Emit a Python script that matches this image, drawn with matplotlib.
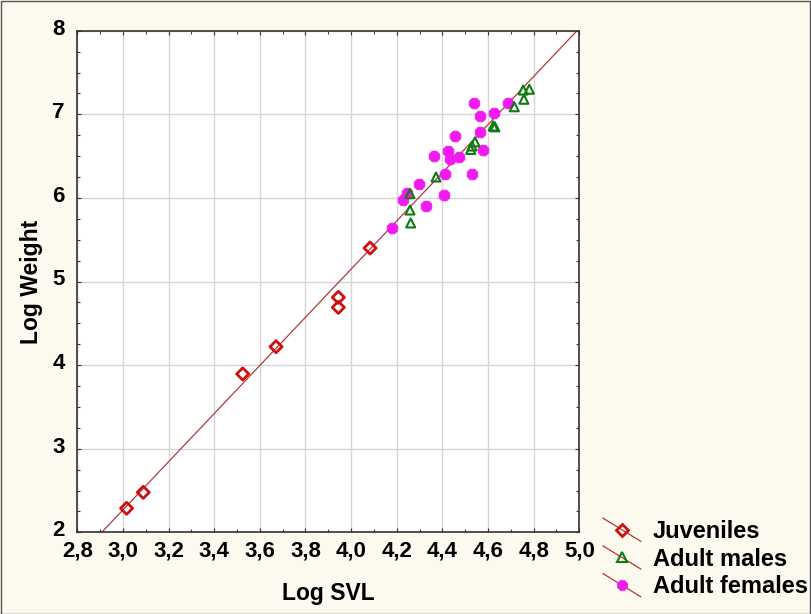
import matplotlib
matplotlib.use("Agg")
import matplotlib.pyplot as plt
import numpy as np
from matplotlib.legend_handler import HandlerLine2D
from matplotlib.lines import Line2D
from matplotlib.ticker import MultipleLocator, FuncFormatter
from matplotlib.patches import Rectangle
import matplotlib.transforms as mtransforms

plt.rcParams['font.family'] = ['Liberation Sans', 'DejaVu Sans']

# Data
juv_x = [3.016, 3.089, 3.525, 3.671, 3.944, 3.944, 4.083]
juv_y = [2.287, 2.478, 3.894, 4.220, 4.690, 4.810, 5.400]

male_x = [4.258, 4.258, 4.261, 4.372, 4.524, 4.530, 4.543, 4.623, 4.630, 4.715, 4.757, 4.754, 4.781]
male_y = [6.050, 5.855, 5.700, 6.250, 6.580, 6.620, 6.670, 6.860, 6.850, 7.090, 7.180, 7.290, 7.300]

fem_x = [4.540, 4.565, 4.627, 4.686, 4.565, 4.455, 4.426, 4.433, 4.474, 4.363, 4.576,
         4.411, 4.528, 4.299, 4.243, 4.229, 4.407, 4.328, 4.178]
fem_y = [7.130, 6.980, 7.020, 7.130, 6.790, 6.740, 6.560, 6.470, 6.490, 6.500, 6.570,
         6.290, 6.280, 6.170, 6.060, 5.970, 6.030, 5.900, 5.640]

fit_x = [2.907, 4.990]
fit_y = [2.0, 8.0]

x_ticks = [2.8, 3.0, 3.2, 3.4, 3.6, 3.8, 4.0, 4.2, 4.4, 4.6, 4.8, 5.0]
y_ticks = [2, 3, 4, 5, 6, 7, 8]

W, H = 811, 614
fig = plt.figure(figsize=(W / 100, H / 100), dpi=100)
fig.patch.set_facecolor('#FCF9EE')
fig.patches.append(Rectangle((0.5 / W, 0.5 / H), 1 - 1.5 / W, 1 - 1.5 / H,
                             transform=fig.transFigure, fill=False,
                             edgecolor='#555555', linewidth=1.0))

ax = fig.add_axes([77.3 / W, 1 - 532.3 / H, (579.3 - 77.3) / W, (532.3 - 30.7) / H])
ax.set_facecolor('white')

line_color = '#B03A3A'
ax.plot(fit_x, fit_y, color=line_color, lw=0.9, zorder=2)

ax.scatter(juv_x, juv_y, marker='D', s=38, facecolors='none', edgecolors='#D01010',
           linewidths=2.0, zorder=3)
ax.scatter(male_x, male_y, marker='^', s=42, facecolors='none', edgecolors='#0F7A0F',
           linewidths=1.5, zorder=4)
ax.scatter(fem_x, fem_y, marker='8', s=70, facecolors='#F01AF0', edgecolors='#F01AF0',
           linewidths=0.5, zorder=3)

ax.set_xlim(2.8, 5.0)
ax.set_ylim(2, 8)
ax.set_xticks(x_ticks)
ax.set_yticks(y_ticks)
ax.xaxis.set_major_formatter(FuncFormatter(lambda v, p: f"{v:.1f}".replace('.', ',')))
ax.yaxis.set_major_formatter(FuncFormatter(lambda v, p: f"{v:.0f}"))
ax.xaxis.set_minor_locator(MultipleLocator(0.1))
ax.yaxis.set_minor_locator(MultipleLocator(0.25))
ax.grid(True, which='major', color='#D4D4D4', lw=1.0, zorder=0)
ax.set_axisbelow(True)
ax.tick_params(which='both', direction='in', top=True, right=True, colors='#333333')
ax.tick_params(which='major', length=3, width=0.8, labelsize=16, labelcolor='black')
ax.tick_params(axis='x', which='major', pad=6)
ax.tick_params(axis='y', which='major', pad=9)
ax.tick_params(which='minor', length=2.5, width=0.8)
for lab in ax.get_xticklabels() + ax.get_yticklabels():
    lab.set_fontweight('bold')
shift_up = mtransforms.ScaledTranslation(0, 4 / 100, fig.dpi_scale_trans)
for lab in ax.get_yticklabels():
    lab.set_transform(lab.get_transform() + shift_up)
for sp in ax.spines.values():
    sp.set_color('#333333')
    sp.set_linewidth(1.2)

ax.set_xlabel('Log SVL', fontsize=16.5, fontweight='bold', labelpad=15)
ax.set_ylabel('Log Weight', fontsize=16.5, fontweight='bold', labelpad=7)


class DiagHandler(HandlerLine2D):
    def create_artists(self, legend, orig_handle, xdescent, ydescent, width, height,
                       fontsize, trans):
        x0, x1 = -xdescent, -xdescent + width
        yc = -ydescent + height / 2
        y0, y1 = yc + height * 0.7, yc - height * 0.7
        ln = Line2D([x0, x1], [y0, y1], color=line_color, lw=0.9, transform=trans)
        mk = Line2D([(x0 + x1) / 2], [yc], linestyle='none',
                    marker=orig_handle.get_marker(),
                    markersize=orig_handle.get_markersize(),
                    markerfacecolor=orig_handle.get_markerfacecolor(),
                    markeredgecolor=orig_handle.get_markeredgecolor(),
                    markeredgewidth=orig_handle.get_markeredgewidth(),
                    transform=trans)
        return [ln, mk]


h_juv = Line2D([], [], marker='D', markersize=6, markerfacecolor='none',
               markeredgecolor='#D01010', markeredgewidth=2.0, linestyle='none')
h_male = Line2D([], [], marker='^', markersize=7, markerfacecolor='none',
                markeredgecolor='#0F7A0F', markeredgewidth=1.5, linestyle='none')
h_fem = Line2D([], [], marker='8', markersize=8, markerfacecolor='#F01AF0',
               markeredgecolor='#F01AF0', markeredgewidth=0.5, linestyle='none')

leg = fig.legend([h_juv, h_male, h_fem], ['Juveniles', 'Adult males', 'Adult females'],
                 handler_map={Line2D: DiagHandler()},
                 loc='upper left', bbox_to_anchor=(603 / W, 1 - 520 / H),
                 frameon=False, prop={'weight': 'bold', 'size': 17},
                 handlelength=1.6, handletextpad=0.5, labelspacing=0.2,
                 borderpad=0, borderaxespad=0)

fig.savefig('out.png', dpi=100, facecolor=fig.get_facecolor())
